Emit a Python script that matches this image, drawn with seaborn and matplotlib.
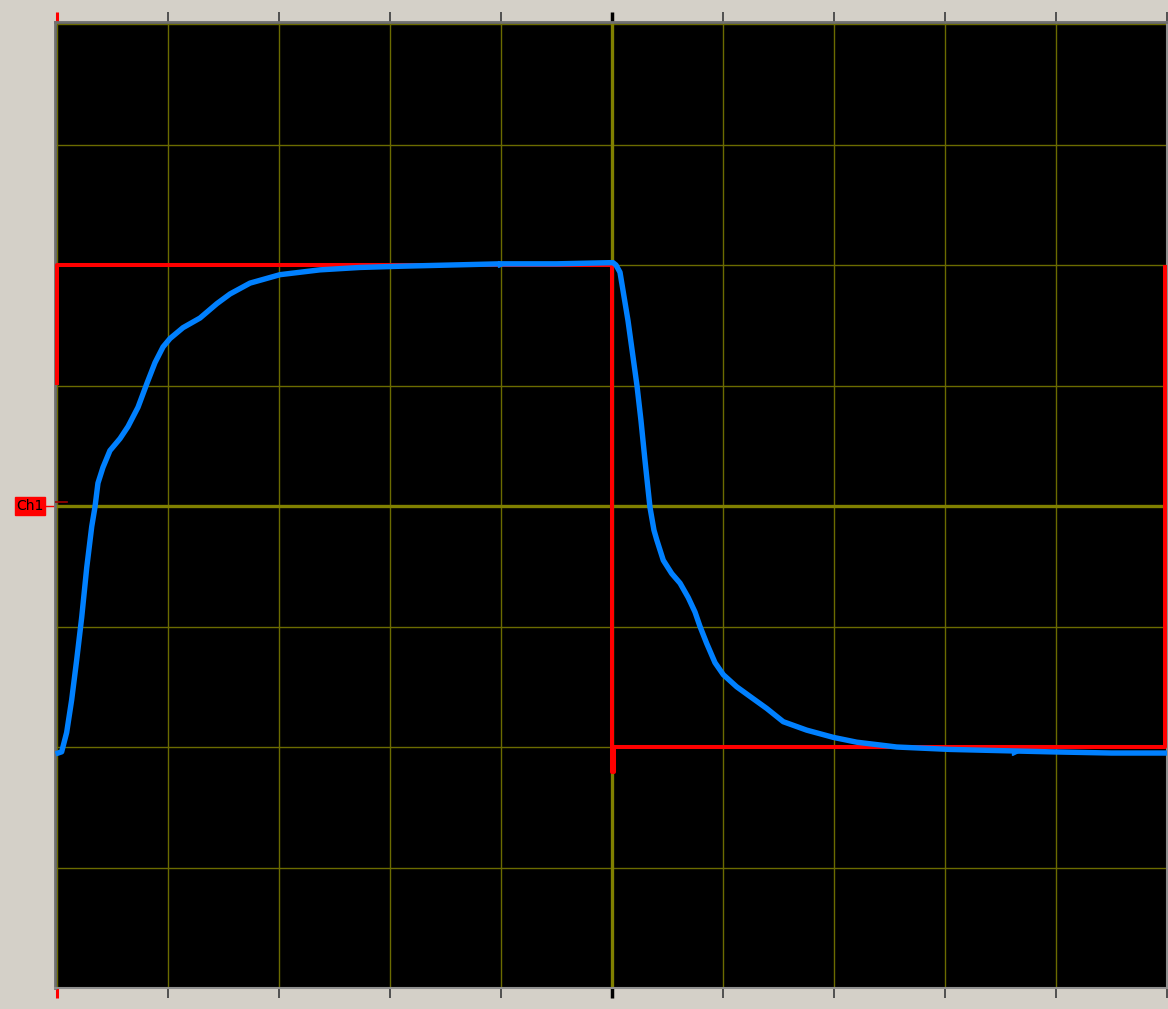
import numpy as np
import pandas as pd
import seaborn as sns
import matplotlib.pyplot as plt
from matplotlib.lines import Line2D

# Trace data in screen divisions (10 x 8 grid, centre = 0,0)
red_x = [-5.0, -5.0, 0.0, 0.0, 0.015, 0.015, 4.98, 4.98]
red_y = [1.02, 2.0, 2.0, -2.21, -2.21, -2.0, -2.0, 1.98]

blue_x = [-4.99, -4.958, -4.913, -4.868, -4.823, -4.777, -4.732, -4.687, -4.658,
          -4.631, -4.586, -4.523, -4.432, -4.360, -4.270, -4.189, -4.117, -4.045,
          -3.982, -3.865, -3.712, -3.559, -3.441, -3.261, -2.991, -2.631, -2.270,
          -1.910, -1.459, -1.009, -0.5, 0.009, 0.036, 0.072, 0.099, 0.144, 0.189,
          0.225, 0.261, 0.297, 0.342, 0.378, 0.403, 0.462, 0.538, 0.613, 0.687,
          0.748, 0.793, 0.853, 0.928, 1.003, 1.123, 1.243, 1.394, 1.543, 1.754,
          1.994, 2.205, 2.565, 3.045, 3.495, 3.946, 4.5, 4.99]
blue_y = [-2.05, -2.04, -1.88, -1.61, -1.28, -0.92, -0.51, -0.17, -0.01,
          0.19, 0.32, 0.46, 0.56, 0.66, 0.82, 1.02, 1.19, 1.32,
          1.39, 1.48, 1.56, 1.68, 1.76, 1.85, 1.92, 1.96, 1.98,
          1.99, 2.00, 2.01, 2.01, 2.02, 2.00, 1.94, 1.79, 1.54, 1.24,
          1.00, 0.71, 0.38, -0.01, -0.20, -0.28, -0.45, -0.56, -0.64, -0.76,
          -0.88, -1.00, -1.14, -1.30, -1.40, -1.50, -1.58, -1.68, -1.79, -1.86,
          -1.92, -1.96, -2.00, -2.02, -2.03, -2.04, -2.05, -2.05]

arrow_x = [-1.0, 3.63]
arrow_y = [2.01, -2.04]

ch1_level = 0.03

red_df = pd.DataFrame({'t': red_x, 'v': red_y})
blue_df = pd.DataFrame({'t': blue_x, 'v': blue_y})

bg = '#D4D0C8'
grid_col = '#6b6b00'
centre_col = '#808000'

fig = plt.figure(figsize=(11.68, 10.09), dpi=100, facecolor=bg)
ax = fig.add_axes([55 / 1168, 21 / 1009, 1112 / 1168, 966 / 1009])
ax.set_facecolor('black')

# Grid
ax.set_xticks(np.arange(-5, 6, 1))
ax.set_yticks(np.arange(-4, 5, 1))
ax.grid(True, color=grid_col, linewidth=1.0)
ax.axvline(0, color=centre_col, linewidth=2.4, zorder=1.5)
ax.axhline(0, color=centre_col, linewidth=2.4, zorder=1.5)
ax.set_axisbelow(True)

# Traces
sns.lineplot(data=red_df, x='t', y='v', sort=False, estimator=None, ax=ax,
             color='#ff0000', linewidth=2.9, zorder=3)
sns.lineplot(data=blue_df, x='t', y='v', sort=False, estimator=None, ax=ax,
             color='#0080ff', linewidth=3.9, zorder=4)
ax.plot(arrow_x, arrow_y, linestyle='none', marker='>', markersize=5,
        color='#0080ff', zorder=5)

ax.set_xlabel('')
ax.set_ylabel('')
ax.set_xlim(-5.018, 5.0)
ax.set_ylim(-4.0, 4.017)

ax.tick_params(axis='x', which='major', top=True, bottom=True, direction='out',
               length=7.5, width=1.4, color='#505050',
               labelbottom=False, labeltop=False)
ax.tick_params(axis='y', length=0, labelleft=False)

for side in ['left', 'top']:
    ax.spines[side].set_color('#707070')
    ax.spines[side].set_linewidth(2.0)
for side in ['right', 'bottom']:
    ax.spines[side].set_color('#909090')
    ax.spines[side].set_linewidth(1.5)

# Ch1 ground marker
ax.axhline(ch1_level, xmin=0.0, xmax=0.011, color='#a00000', linewidth=1.2, zorder=3)
fig.text(30 / 1168, 1 - 506 / 1009, 'Ch1', ha='center', va='center',
         fontsize=10, color='black', family='DejaVu Sans',
         bbox=dict(boxstyle='square,pad=0.12', facecolor='#ff0000', edgecolor='#ff0000'))
fig.add_artist(Line2D([45 / 1168, 53 / 1168], [1 - 506 / 1009, 1 - 506 / 1009],
                      color='#ff0000', linewidth=1.0))

# colour the trigger / centre tick marks (ticks are markers -> edge colour)
fig.canvas.draw()
for tick in ax.xaxis.get_major_ticks():
    loc = tick.get_loc()
    if loc is None:
        continue
    if abs(loc + 5) < 1e-6:
        for ln in (tick.tick1line, tick.tick2line):
            ln.set_markeredgecolor('#ff0000')
            ln.set_markeredgewidth(2.2)
    elif abs(loc) < 1e-6:
        for ln in (tick.tick1line, tick.tick2line):
            ln.set_markeredgecolor('black')
            ln.set_markeredgewidth(2.5)

fig.savefig('out.png', dpi=100, facecolor=bg)
